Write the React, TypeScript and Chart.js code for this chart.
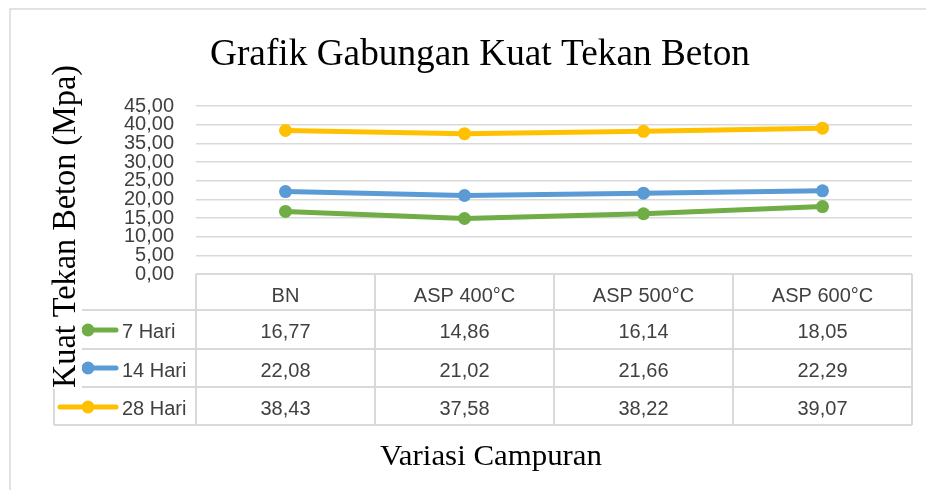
import React, { useEffect, useRef } from "react";
import { Chart, registerables } from "chart.js";

Chart.register(...registerables);

const categories = ["BN", "ASP 400°C", "ASP 500°C", "ASP 600°C"];
const seriesNames = ["7 Hari", "14 Hari", "28 Hari"];
const hari7 = [16.77, 14.86, 16.14, 18.05];
const hari14 = [22.08, 21.02, 21.66, 22.29];
const hari28 = [38.43, 37.58, 38.22, 39.07];
const seriesColors = ["#70AD47", "#5B9BD5", "#FFC000"];
const chartTitle = "Grafik Gabungan Kuat Tekan Beton";
const yTitle = "Kuat Tekan Beton (Mpa)";
const xTitle = "Variasi Campuran";

const fmt = (v: number) => v.toFixed(2).replace(".", ",");

function fitText(ctx: CanvasRenderingContext2D, text: string, x: number, y: number, font: string, width: number, rot = 0) {
  ctx.save();
  ctx.font = font;
  const w = ctx.measureText(text).width;
  ctx.translate(x, y);
  if (rot) ctx.rotate(rot);
  ctx.scale(width / w, 1);
  ctx.textAlign = "center";
  ctx.textBaseline = "alphabetic";
  ctx.fillText(text, 0, 0);
  ctx.restore();
}

const tablePlugin = {
  id: "tablePlugin",
  afterDraw(chart: any) {
    const ctx: CanvasRenderingContext2D = chart.ctx;
    const xs = chart.scales.x;
    const area = chart.chartArea;
    const left = area.left;
    const right = area.right;
    const top = area.bottom;
    const rowLines = [top, 310, 349, 387, 425];
    const baselines = [302, 338, 377, 415];
    const keyY = [330, 368, 407];
    const colEdges: number[] = [left];
    for (let i = 0; i < categories.length; i++) {
      const c = xs.getPixelForValue(i);
      const next = i < categories.length - 1 ? xs.getPixelForValue(i + 1) : null;
      colEdges.push(next === null ? right : (c + next) / 2);
    }
    ctx.save();
    // outer border
    ctx.strokeStyle = "#d9d9d9";
    ctx.lineWidth = 1.5;
    ctx.beginPath();
    ctx.moveTo(10, 490);
    ctx.lineTo(10, 9);
    ctx.lineTo(926, 9);
    ctx.stroke();

    // table lines
    ctx.lineWidth = 2;
    ctx.beginPath();
    ctx.moveTo(left, rowLines[0]);
    ctx.lineTo(right, rowLines[0]);
    for (let r = 1; r < rowLines.length; r++) {
      ctx.moveTo(54, rowLines[r]);
      ctx.lineTo(right, rowLines[r]);
    }
    for (const xe of colEdges) {
      ctx.moveTo(xe, rowLines[0]);
      ctx.lineTo(xe, rowLines[rowLines.length - 1]);
    }
    ctx.moveTo(54, rowLines[1]);
    ctx.lineTo(54, rowLines[rowLines.length - 1]);
    ctx.stroke();

    // text
    ctx.fillStyle = "#404040";
    ctx.font = "20px 'Liberation Sans', sans-serif";
    ctx.textAlign = "center";
    ctx.textBaseline = "alphabetic";
    categories.forEach((c, i) => {
      ctx.fillText(c, xs.getPixelForValue(i), baselines[0]);
    });
    const all = [hari7, hari14, hari28];
    all.forEach((arr, s) => {
      arr.forEach((v, i) => {
        ctx.fillText(fmt(v), xs.getPixelForValue(i), baselines[s + 1]);
      });
    });
    // legend keys
    ctx.textAlign = "left";
    seriesNames.forEach((n, s) => {
      const y = keyY[s];
      ctx.strokeStyle = seriesColors[s];
      ctx.lineWidth = 5;
      ctx.lineCap = "round";
      ctx.beginPath();
      ctx.moveTo(60, y);
      ctx.lineTo(116, y);
      ctx.stroke();
      ctx.fillStyle = seriesColors[s];
      ctx.beginPath();
      ctx.arc(88, y, 6.5, 0, Math.PI * 2);
      ctx.fill();
      ctx.fillStyle = "#404040";
      ctx.fillText(n, 122, baselines[s + 1]);
    });

    // y title with white background
    ctx.fillStyle = "#ffffff";
    ctx.fillRect(46, 55, 36, 334);
    ctx.fillStyle = "#000000";
    fitText(ctx, yTitle, 75, 226.5, "33px 'Liberation Serif', serif", 323, -Math.PI / 2);
    // chart title
    fitText(ctx, chartTitle, 480, 65, "38px 'Liberation Serif', serif", 540);
    // x title
    fitText(ctx, xTitle, 491, 465, "30px 'Liberation Serif', serif", 222);
    ctx.restore();
  },
};

export default function App() {
  const ref = useRef<HTMLCanvasElement | null>(null);
  useEffect(() => {
    if (!ref.current) return;
    const mk = (data: number[], s: number) => ({
      label: seriesNames[s],
      data,
      borderColor: seriesColors[s],
      backgroundColor: seriesColors[s],
      borderWidth: 5,
      pointRadius: 6.5,
      pointHoverRadius: 6.5,
      pointBorderWidth: 0,
      tension: 0,
    });
    const chart = new Chart(ref.current, {
      type: "line",
      data: {
        labels: categories,
        datasets: [mk(hari7, 0), mk(hari14, 1), mk(hari28, 2)],
      },
      options: {
        animation: false,
        responsive: false,
        devicePixelRatio: 1,
        layout: { padding: { left: 0, top: 106, right: 14, bottom: 216 } },
        plugins: { legend: { display: false }, title: { display: false }, tooltip: { enabled: false } },
        scales: {
          x: { type: "category", display: false, offset: true },
          y: {
            min: 0,
            max: 45,
            afterFit: (scale: any) => {
              scale.width = 196;
            },
            ticks: {
              stepSize: 5,
              autoSkip: false,
              padding: 22,
              color: "#404040",
              font: { family: "'Liberation Sans', sans-serif", size: 20, lineHeight: 1 },
              callback: (v: any) => fmt(Number(v)),
            },
            grid: { color: "#d9d9d9", lineWidth: 1.5, drawTicks: false },
            border: { display: false },
          },
        },
      },
      plugins: [tablePlugin],
    });
    return () => chart.destroy();
  }, []);
  return (
    <div style={{ position: "fixed", left: 0, top: 0, width: 926, height: 490, background: "#fff" }}>
      <canvas ref={ref} width={926} height={490} />
    </div>
  );
}
